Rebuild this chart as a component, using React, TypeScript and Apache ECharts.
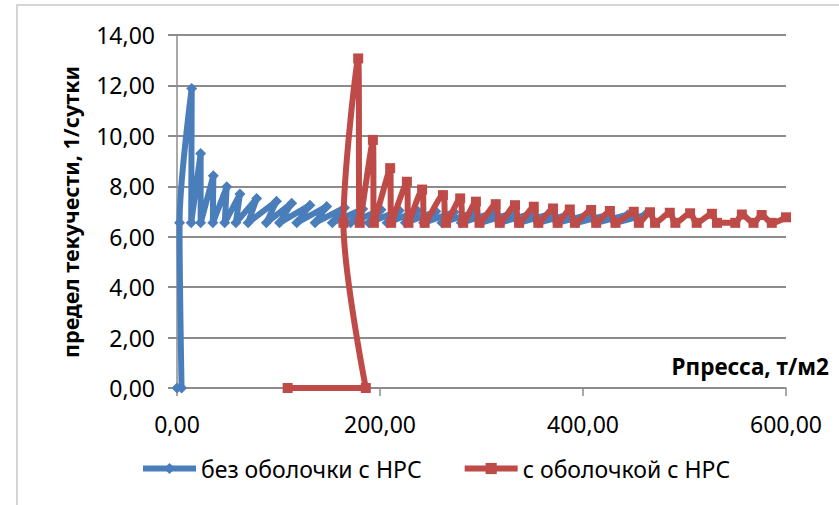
import React, { useEffect, useRef } from "react";
import * as echarts from "echarts";

// Series 1: без оболочки с НРС
const blueX = [0, 4.5, 2.5, 14.5, 14, 23.3, 23.3, 35.8, 35.3, 49, 47, 62, 58, 78.5, 70, 98, 88, 113, 101, 131, 118, 147.5, 136, 165, 153, 183, 171, 201, 189, 219, 207, 237, 225, 255, 243, 273, 261, 292, 280, 311, 299, 330, 318, 349, 337, 368, 356, 387, 375, 406, 394, 425, 413, 444, 432, 461];
const blueY = [0, 0, 6.55, 11.88, 6.55, 9.3, 6.55, 8.42, 6.55, 7.98, 6.55, 7.69, 6.55, 7.52, 6.55, 7.41, 6.55, 7.33, 6.55, 7.25, 6.55, 7.2, 6.55, 7.15, 6.55, 7.1, 6.55, 7.07, 6.55, 7.04, 6.55, 7.02, 6.55, 7.0, 6.55, 6.98, 6.55, 6.96, 6.55, 6.95, 6.55, 6.93, 6.55, 6.92, 6.55, 6.91, 6.55, 6.9, 6.55, 6.89, 6.55, 6.88, 6.55, 6.87, 6.55, 6.86];

// Series 2: с оболочкой с НРС
const redX = [109, 186, 164, 178.5, 180, 193, 194, 210, 211, 226.5, 228, 241.5, 244, 262, 265, 279, 282, 294.5, 298, 314, 318, 333, 337, 351.5, 356, 370.5, 375, 387, 392, 408, 413, 426.5, 432, 450, 455, 466, 471, 485.5, 491, 505.5, 512, 527, 532, 550, 556.5, 568, 576, 586, 600];
const redY = [0, 0, 6.55, 13.07, 6.55, 9.84, 6.55, 8.72, 6.55, 8.18, 6.55, 7.87, 6.55, 7.65, 6.55, 7.52, 6.55, 7.39, 6.55, 7.29, 6.55, 7.25, 6.55, 7.19, 6.55, 7.12, 6.55, 7.08, 6.55, 7.06, 6.55, 7.02, 6.55, 6.99, 6.55, 6.97, 6.55, 6.95, 6.55, 6.93, 6.55, 6.91, 6.55, 6.55, 6.88, 6.55, 6.86, 6.55, 6.77];

const seriesNames = ["без оболочки с НРС", "с оболочкой с НРС"];
const xTitle = "Рпресса, т/м2";
const yTitle = "предел текучести, 1/сутки";

const xMin = 0, xMax = 600, xStep = 200;
const yMin = 0, yMax = 14, yStep = 2;

const FONT = "'Noto Sans', 'DejaVu Sans', sans-serif";
const GRID_COLOR = "#8c8c8c";
const BLUE = "#4A7EBB";
const RED = "#BE4B48";

const fmt = (v: number) => v.toFixed(2).replace(".", ",");

export default function App() {
  const ref = useRef<HTMLDivElement>(null);
  useEffect(() => {
    document.body.style.margin = "0";
    if (!ref.current) return;
    const chart = echarts.init(ref.current, undefined, { renderer: "svg" });
    const blueData = blueX.map((x, i) => [x, blueY[i]]);
    const redData = redX.map((x, i) => [x, redY[i]]);
    chart.setOption({
      animation: false,
      backgroundColor: "#ffffff",
      grid: { left: 177, top: 35, width: 609, height: 353, containLabel: false, outerBoundsMode: "none" },
      xAxis: {
        type: "value",
        min: xMin,
        max: xMax,
        interval: xStep,
        axisLine: { show: true, onZero: false, lineStyle: { color: GRID_COLOR, width: 1.5 } },
        axisTick: { show: true, inside: false, length: 8, lineStyle: { color: GRID_COLOR, width: 1.5 } },
        splitLine: { show: false },
        axisLabel: { formatter: fmt, color: "#000", fontFamily: FONT, fontSize: 23, margin: 24 },
      },
      yAxis: {
        type: "value",
        min: yMin,
        max: yMax,
        interval: yStep,
        axisLine: { show: true, lineStyle: { color: GRID_COLOR, width: 1.5 } },
        axisTick: { show: true, inside: false, length: 9, lineStyle: { color: GRID_COLOR, width: 2 } },
        splitLine: { show: true, lineStyle: { color: GRID_COLOR, width: 2 } },
        axisLabel: { formatter: fmt, color: "#000", fontFamily: FONT, fontSize: 23, margin: 22 },
      },
      legend: {
        left: 135,
        top: 452,
        itemGap: 40,
        itemWidth: 53,
        itemHeight: 14,
        textStyle: { color: "#000", fontFamily: FONT, fontSize: 23, padding: [0, 0, 0, 0] },
        lineStyle: { width: 6 },
        data: seriesNames,
      },
      graphic: [
        {
          type: "rect",
          silent: true,
          shape: { x: 17, y: 5, width: 900, height: 700 },
          style: { fill: "none", stroke: "#c8c8c8", lineWidth: 1.5 },
          z: -10,
        },
        {
          type: "text",
          x: 829,
          y: 366,
          style: { text: xTitle, fill: "#000", font: `bold 22.5px ${FONT}`, align: "right", verticalAlign: "middle" },
        },
        {
          type: "text",
          x: 70,
          y: 212,
          rotation: Math.PI / 2,
          style: { text: yTitle, fill: "#000", font: `bold 21.5px ${FONT}`, align: "center", verticalAlign: "middle" },
        },
      ],
      series: [
        {
          name: seriesNames[0],
          type: "line",
          data: blueData,
          smooth: 0.3,
          symbol: "diamond",
          symbolSize: 11,
          itemStyle: { color: BLUE },
          lineStyle: { color: BLUE, width: 6 },
          clip: true,
          z: 2,
        },
        {
          name: seriesNames[1],
          type: "line",
          data: redData,
          smooth: 0.3,
          symbol: "rect",
          symbolSize: 10,
          itemStyle: { color: RED },
          lineStyle: { color: RED, width: 6 },
          clip: true,
          z: 3,
        },
      ],
    });
    return () => chart.dispose();
  }, []);
  return <div ref={ref} style={{ width: 839, height: 505 }} />;
}
